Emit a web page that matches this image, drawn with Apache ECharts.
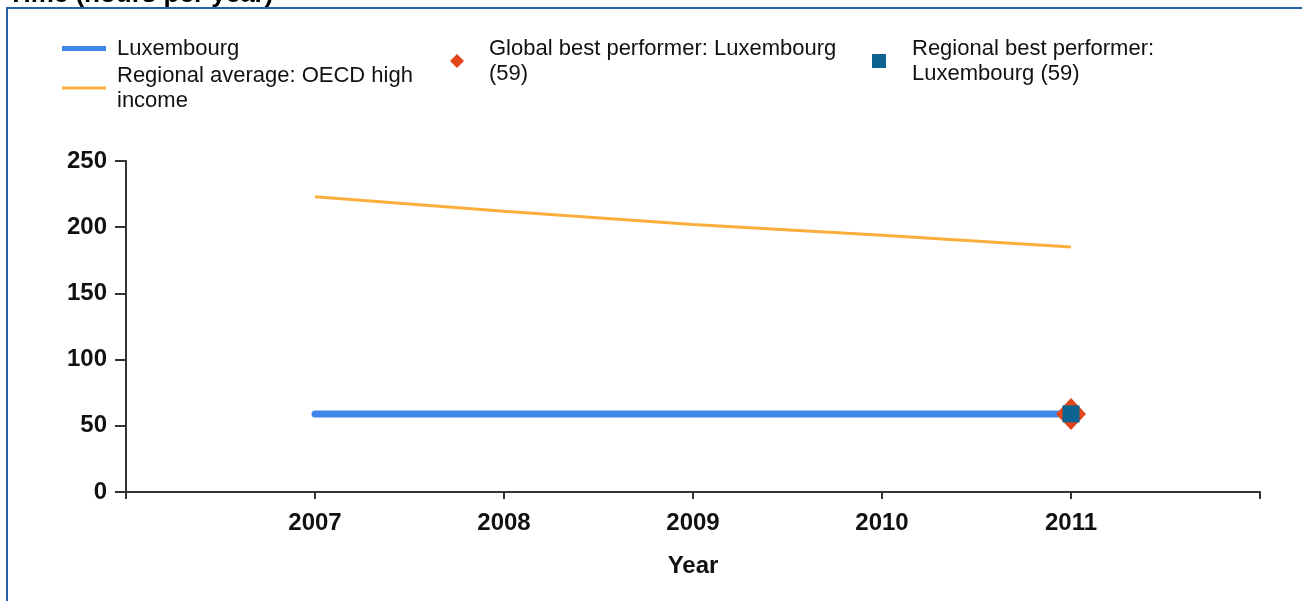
<!DOCTYPE html>
<html>
<head>
<meta charset="utf-8">
<script src="https://cdn.jsdelivr.net/npm/echarts@6/dist/echarts.min.js"></script>
<style>
html,body{margin:0;padding:0;background:#fff;}
#chart{width:1302px;height:601px;}
</style>
</head>
<body>
<div id="chart"></div>
<script>
// ---- data ----
const titleText = 'Time (hours per year)';
const xAxisName = 'Year';
const years = [2007, 2008, 2009, 2010, 2011];
const luxembourg = [59, 59, 59, 59, 59];
const oecdHighIncome = [223, 212, 202, 194, 185];
const globalBest = [[2011, 59]];
const regionalBest = [[2011, 59]];
const yTicks = [0, 50, 100, 150, 200, 250];
const seriesNames = ['Luxembourg', 'Regional average: OECD high income', 'Global best performer: Luxembourg (59)', 'Regional best performer: Luxembourg (59)'];
const legendLabels = ['Luxembourg', 'Regional average: OECD high\nincome', 'Global best performer: Luxembourg\n(59)', 'Regional best performer:\nLuxembourg (59)'];

const pair = (xs, ys) => xs.map((x, i) => [x, ys[i]]);
const FONT = '"Liberation Sans", Arial, sans-serif';
const legendText = {
  fontFamily: FONT, fontSize: 22, color: '#111', lineHeight: 25
};
const fmt = name => legendLabels[seriesNames.indexOf(name)];

const chart = echarts.init(document.getElementById('chart'));
chart.setOption({
  animation: false,
  backgroundColor: '#fff',
  graphic: [
    { type: 'rect', shape: { x: 7, y: 8, width: 1400, height: 700 }, style: { fill: 'none', stroke: '#2a62a6', lineWidth: 2 }, z: 0 },
    { type: 'text', x: 8, y: 8, style: { text: titleText, font: 'bold 26px ' + FONT, fill: '#000', verticalAlign: 'bottom' } }
  ],
  legend: [
    { data: [seriesNames[0]], left: 62, top: 36, padding: 0, icon: 'rect', itemWidth: 44, itemHeight: 5, selectedMode: false, formatter: fmt, textStyle: Object.assign({ padding: [0, 0, 0, 6] }, legendText) },
    { data: [seriesNames[1]], left: 62, top: 63, padding: 0, icon: 'rect', itemWidth: 44, itemHeight: 3, selectedMode: false, formatter: fmt, textStyle: Object.assign({ padding: [0, 0, 0, 6] }, legendText) },
    { data: [seriesNames[2]], left: 450, top: 36, padding: 0, icon: 'diamond', itemWidth: 14, itemHeight: 14, selectedMode: false, formatter: fmt, textStyle: Object.assign({ padding: [0, 0, 0, 20] }, legendText) },
    { data: [seriesNames[3]], left: 872, top: 36, padding: 0, icon: 'rect', itemWidth: 14, itemHeight: 14, selectedMode: false, formatter: fmt, textStyle: Object.assign({ padding: [0, 0, 0, 21] }, legendText) }
  ],
  grid: { left: 126, right: 42, top: 161, bottom: 109, containLabel: false },
  xAxis: {
    type: 'value', min: 2006, max: 2012, interval: 1,
    name: xAxisName, nameLocation: 'middle', nameGap: 62,
    nameTextStyle: { fontFamily: FONT, fontSize: 24, fontWeight: 'bold', color: '#111' },
    axisLine: { show: true, lineStyle: { color: '#333', width: 2 } },
    axisTick: { show: true, length: 7, lineStyle: { color: '#333', width: 2 } },
    axisLabel: {
      margin: 19, fontFamily: FONT, fontSize: 24, fontWeight: 'bold', color: '#111',
      formatter: v => (years.indexOf(v) >= 0 ? String(v) : '')
    },
    splitLine: { show: false }
  },
  yAxis: {
    type: 'value', min: yTicks[0], max: yTicks[yTicks.length - 1], interval: 50,
    axisLine: { show: true, lineStyle: { color: '#333', width: 2 } },
    axisTick: { show: true, length: 11, lineStyle: { color: '#333', width: 2 } },
    axisLabel: { margin: 19, fontFamily: FONT, fontSize: 24, fontWeight: 'bold', color: '#111' },
    splitLine: { show: false }
  },
  series: [
    { name: seriesNames[0], type: 'line', data: pair(years, luxembourg), symbol: 'none', color: '#3f86ea',
      lineStyle: { color: '#3f86ea', width: 7, cap: 'round' }, z: 3 },
    { name: seriesNames[1], type: 'line', data: pair(years, oecdHighIncome), symbol: 'none', color: '#fbae3c',
      lineStyle: { color: '#fbae3c', width: 3 }, z: 2 },
    { name: seriesNames[2], type: 'scatter', data: globalBest, symbol: 'diamond', symbolSize: [30, 32], color: '#e2461a',
      itemStyle: { color: '#e2461a', opacity: 1 }, z: 4 },
    { name: seriesNames[3], type: 'scatter', data: regionalBest, symbol: 'rect', symbolSize: 17, color: '#0d6391',
      itemStyle: { color: '#0d6391', opacity: 1 }, z: 5 }
  ]
});
</script>
</body>
</html>
